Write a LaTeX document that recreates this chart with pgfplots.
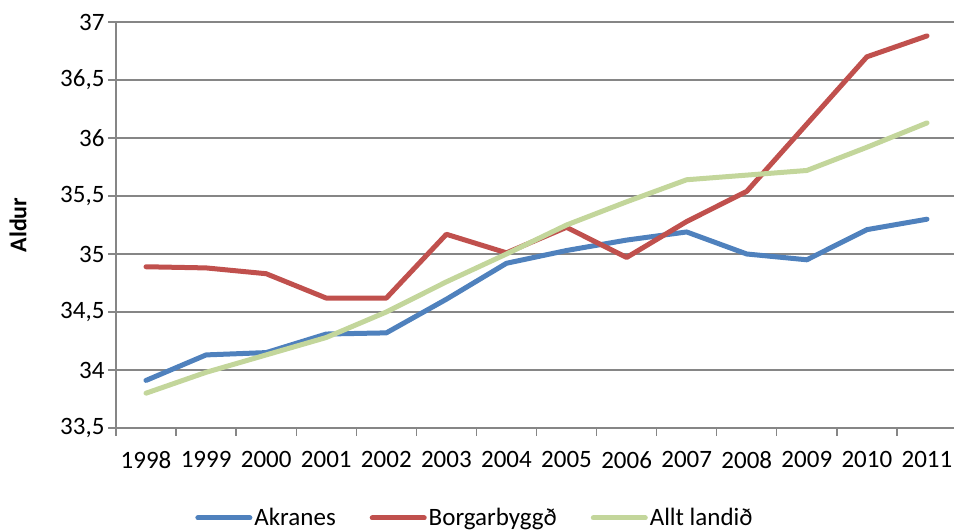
\documentclass[border=0pt]{standalone}
\usepackage{fontspec}
\setmainfont{Carlito}
\usepackage{pgfplots}
\pgfplotsset{compat=1.18}
\definecolor{cblue}{HTML}{4F81BD}
\definecolor{cred}{HTML}{C0504D}
\definecolor{cgreen}{HTML}{C3D69B}
\definecolor{cgrid}{HTML}{868686}
\newcommand{\bigf}{\fontsize{25}{30}\selectfont}
\begin{document}
\begin{tikzpicture}[x=1pt,y=1pt]
\useasboundingbox (0,0) rectangle (954,532);
\begin{axis}[
  at={(116pt,104pt)}, anchor=south west,
  scale only axis, width=838pt, height=406pt,
  xmin=-0.5, xmax=13.45, ymin=33.5, ymax=37,
  axis x line=bottom, axis y line=left,
  axis line style={cgrid, line width=1.3pt, -},
  tick align=outside, major tick length=8pt, minor tick length=8pt,
  xtick={0,...,13},
  xticklabels={1998,1999,2000,2001,2002,2003,2004,2005,2006,2007,2008,2009,2010,2011},
  minor xtick={-0.5,0.5,1.5,2.5,3.5,4.5,5.5,6.5,7.5,8.5,9.5,10.5,11.5,12.5},
  xtick style={draw=none},
  minor x tick style={draw=cgrid, line width=1.3pt},
  ytick={33.5,34,34.5,35,35.5,36,36.5,37},
  ytick style={draw=cgrid, line width=1.3pt},
  ymajorgrids, grid style={cgrid, line width=1.3pt},
  yticklabel style={/pgf/number format/.cd, fixed, precision=1, use comma, assume math mode=true},
  every tick label/.append style={font=\bigf},
  xticklabel style={yshift=-12pt},
  ylabel={\textbf{Aldur}},
  ylabel style={at={(axis description cs:0,0.5)}, anchor=center, yshift=98pt, font=\fontsize{24}{28}\selectfont},
  legend columns=3,
  legend style={at={(axis description cs:0.5,0)}, anchor=center, xshift=-60pt, yshift=-90pt,
    draw=none, fill=none, font=\bigf,
    /tikz/every even column/.append style={column sep=32pt}},
  legend image code/.code={\draw[#1, line width=5pt] (0pt,0pt) -- (52pt,0pt);},
  every axis plot/.append style={line width=5pt, line join=round, line cap=round},
]
\addplot[cblue] coordinates {(0,33.91) (1,34.13) (2,34.15) (3,34.31) (4,34.32) (5,34.61) (6,34.92) (7,35.03) (8,35.12) (9,35.19) (10,35.00) (11,34.95) (12,35.21) (13,35.30)};
\addlegendentry{Akranes}
\addplot[cred] coordinates {(0,34.89) (1,34.88) (2,34.83) (3,34.62) (4,34.62) (5,35.17) (6,35.01) (7,35.23) (8,34.97) (9,35.28) (10,35.54) (11,36.12) (12,36.70) (13,36.88)};
\addlegendentry{Borgarbyggð}
\addplot[cgreen] coordinates {(0,33.80) (1,33.98) (2,34.13) (3,34.28) (4,34.50) (5,34.76) (6,35.00) (7,35.25) (8,35.45) (9,35.64) (10,35.68) (11,35.72) (12,35.92) (13,36.13)};
\addlegendentry{Allt landið}
\end{axis}
\end{tikzpicture}
\end{document}
